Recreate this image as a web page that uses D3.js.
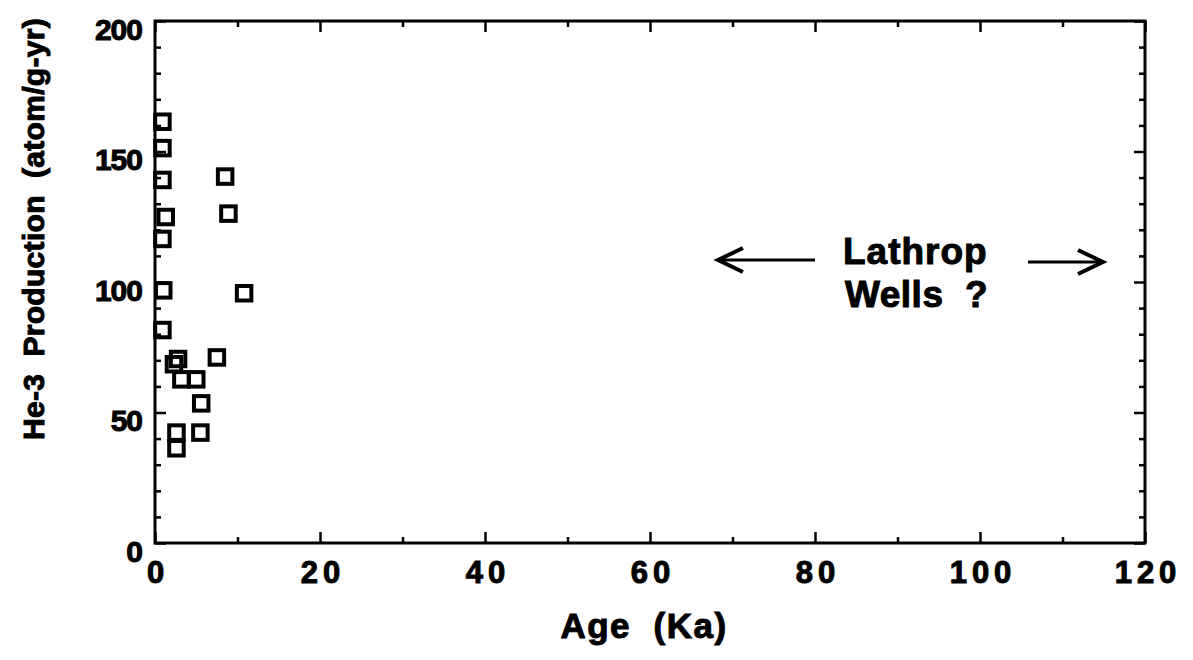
<!DOCTYPE html>
<html><head><meta charset="utf-8">
<script src="https://cdn.jsdelivr.net/npm/d3@7"></script>
<style>body{margin:0;background:#fff}svg{display:block}text{font-family:"Liberation Sans",Arial,sans-serif;font-weight:bold;fill:#000;stroke:#000;stroke-width:1px;white-space:pre}</style>
</head><body>
<svg id="c" width="1193" height="660"></svg>
<script>
const ageKa = [0.9,0.9,0.9,1.3,0.9,1.0,0.9,2.8,2.3,7.5,3.2,5.0,5.6,2.6,5.5,2.6,8.5,8.9,10.8];
const he3Prod = [161.4,151.3,139.1,124.9,116.5,96.8,81.6,70.5,68.5,71.1,62.7,62.7,53.5,42.3,42.3,36.3,140.4,126.2,95.7];
const xTicks = [0,20,40,60,80,100,120];
const yTicks = [0,50,100,150,200];

const svg = d3.select("#c");
const L=155,R=1145,T=21,B=543;
const x = d3.scaleLinear().domain([0,120]).range([L,R]);
const y = d3.scaleLinear().domain([0,200]).range([B,T]);

const g = svg.append("g");
g.append("rect").attr("x",L).attr("y",T).attr("width",R-L).attr("height",B-T)
 .attr("fill","none").attr("stroke","#000").attr("stroke-width",3);

const xMinor = d3.range(10,120,20);
function tickAxis(axisFn, scale, vals, size, tr){
  const a = g.append("g").attr("transform",tr).call(axisFn(scale).tickValues(vals).tickSize(size).tickFormat(""));
  a.select(".domain").remove();
  a.selectAll("line").attr("stroke","#000").attr("stroke-width",2.5);
  return a;
}
tickAxis(d3.axisTop, x, xTicks, 11, `translate(0,${B})`);
tickAxis(d3.axisTop, x, xMinor, 6, `translate(0,${B})`);
tickAxis(d3.axisBottom, x, xTicks, 11, `translate(0,${T})`);
tickAxis(d3.axisBottom, x, xMinor, 6, `translate(0,${T})`);
const yMinor = d3.range(0,201,10).filter(v=>v%50!==0);
tickAxis(d3.axisRight, y, yTicks, 11, `translate(${L},0)`);
tickAxis(d3.axisRight, y, yMinor, 6, `translate(${L},0)`);
tickAxis(d3.axisLeft, y, yTicks, 11, `translate(${R},0)`);
tickAxis(d3.axisLeft, y, yMinor, 6, `translate(${R},0)`);

const xa = g.append("g").attr("transform",`translate(0,${B})`)
  .call(d3.axisBottom(x).tickValues(xTicks).tickSize(0).tickPadding(18).tickFormat(d3.format("d")));
xa.select(".domain").remove();
xa.attr("font-size",null).attr("font-family",null);
xa.selectAll("text").style("font-size","31px").style("letter-spacing","5px").attr("dx","2.5px");

const ya = g.append("g").attr("transform",`translate(${L},0)`)
  .call(d3.axisLeft(y).tickValues(yTicks).tickSize(0).tickPadding(13).tickFormat(d3.format("d")));
ya.select(".domain").remove();
ya.attr("font-size",null).attr("font-family",null);
ya.selectAll("text").style("font-size","30px").style("letter-spacing","-1px").attr("dy","0.6em");

const s = 14.5;
g.append("g").selectAll("rect").data(ageKa.map((a,i)=>[a,he3Prod[i]])).join("rect")
 .attr("x",d=>x(d[0])-s/2).attr("y",d=>y(d[1])-s/2).attr("width",s).attr("height",s)
 .attr("fill","none").attr("stroke","#000").attr("stroke-width",4);

svg.append("text").attr("x",644).attr("y",638).attr("text-anchor","middle")
  .style("font-size","35px").style("letter-spacing","1.5px").text("Age  (Ka)");
svg.append("text").attr("transform","translate(44,229) rotate(-90)").attr("text-anchor","middle")
  .style("font-size","30px").style("letter-spacing","0.3px").text("He-3  Production  (atom/g-yr)");

svg.append("text").attr("x",843).attr("y",264).style("font-size","37px").style("letter-spacing","1px").text("Lathrop");
svg.append("text").attr("x",845).attr("y",307).style("font-size","37px").style("letter-spacing","0.5px").text("Wells  ?");
function arrow(x1,x2,yy){
  svg.append("line").attr("x1",x1).attr("x2",x2).attr("y1",yy).attr("y2",yy).attr("stroke","#000").attr("stroke-width",3);
  const dir = Math.sign(x2-x1);
  svg.append("path").attr("d",`M${x2-dir*25},${yy-12} L${x2},${yy} L${x2-dir*25},${yy+12}`)
    .attr("fill","none").attr("stroke","#000").attr("stroke-width",4).attr("stroke-linejoin","miter");
}
arrow(815,718,260);
arrow(1028,1103,262);
</script>
</body></html>
